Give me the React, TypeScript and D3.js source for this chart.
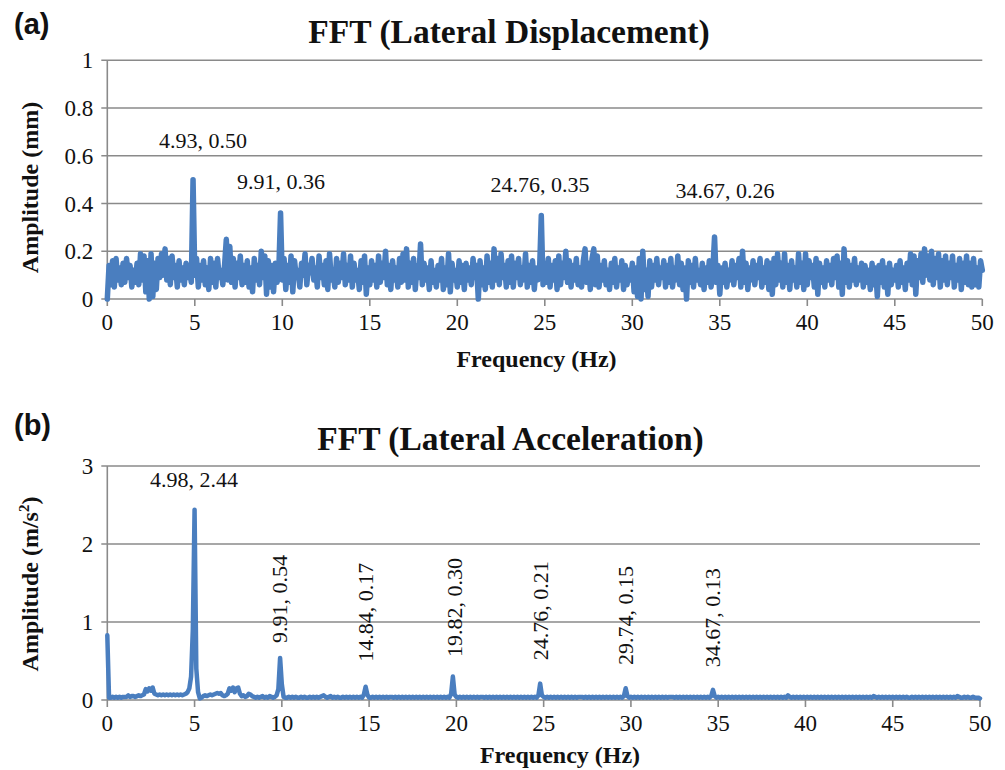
import React from "react";
import * as d3 from "d3";

// ---------- DATA ----------
const freqStep = 0.1; // Hz between samples
// (a) lateral displacement amplitude (mm), 0.0 .. 50.0 Hz
const dispAmp: number[] = [
  0.00, 0.14, 0.06, 0.16, 0.05, 0.17, 0.08, 0.13, 0.06, 0.15,
  0.07, 0.17, 0.09, 0.14, 0.05, 0.12, 0.07, 0.15, 0.06, 0.19,
  0.08, 0.18, 0.03, 0.16, 0.00, 0.19, 0.01, 0.15, 0.04, 0.17,
  0.09, 0.19, 0.10, 0.21, 0.08, 0.17, 0.06, 0.18, 0.09, 0.14,
  0.05, 0.16, 0.08, 0.13, 0.06, 0.15, 0.09, 0.12, 0.07, 0.50,
  0.10, 0.17, 0.05, 0.14, 0.08, 0.16, 0.06, 0.13, 0.04, 0.17,
  0.07, 0.15, 0.05, 0.17, 0.09, 0.12, 0.06, 0.14, 0.25, 0.08,
  0.22, 0.07, 0.17, 0.05, 0.15, 0.09, 0.18, 0.06, 0.14, 0.07,
  0.16, 0.05, 0.13, 0.03, 0.17, 0.08, 0.14, 0.06, 0.20, 0.09,
  0.18, 0.02, 0.16, 0.05, 0.14, 0.03, 0.15, 0.07, 0.12, 0.36,
  0.08, 0.17, 0.04, 0.14, 0.07, 0.18, 0.03, 0.16, 0.09, 0.12,
  0.05, 0.15, 0.10, 0.19, 0.06, 0.14, 0.11, 0.17, 0.08, 0.13,
  0.05, 0.18, 0.09, 0.14, 0.06, 0.16, 0.04, 0.19, 0.08, 0.12,
  0.05, 0.17, 0.07, 0.15, 0.09, 0.19, 0.06, 0.14, 0.08, 0.18,
  0.05, 0.15, 0.08, 0.12, 0.04, 0.16, 0.07, 0.18, 0.02, 0.13,
  0.06, 0.16, 0.08, 0.14, 0.05, 0.18, 0.07, 0.15, 0.09, 0.20,
  0.06, 0.14, 0.04, 0.16, 0.08, 0.13, 0.05, 0.17, 0.07, 0.19,
  0.08, 0.21, 0.05, 0.15, 0.07, 0.17, 0.04, 0.14, 0.09, 0.23,
  0.06, 0.15, 0.08, 0.13, 0.04, 0.16, 0.07, 0.12, 0.05, 0.14,
  0.08, 0.17, 0.04, 0.13, 0.06, 0.19, 0.03, 0.15, 0.08, 0.12,
  0.05, 0.16, 0.07, 0.14, 0.04, 0.15, 0.08, 0.13, 0.06, 0.17,
  0.09, 0.14, 0.00, 0.16, 0.06, 0.13, 0.04, 0.18, 0.07, 0.15,
  0.05, 0.21, 0.08, 0.17, 0.06, 0.19, 0.09, 0.14, 0.05, 0.16,
  0.07, 0.18, 0.05, 0.15, 0.09, 0.17, 0.06, 0.13, 0.08, 0.19,
  0.05, 0.14, 0.07, 0.16, 0.04, 0.13, 0.08, 0.12, 0.35, 0.06,
  0.15, 0.07, 0.17, 0.05, 0.14, 0.08, 0.16, 0.04, 0.18, 0.06,
  0.15, 0.09, 0.20, 0.07, 0.16, 0.05, 0.14, 0.08, 0.17, 0.06,
  0.13, 0.05, 0.16, 0.21, 0.07, 0.15, 0.04, 0.17, 0.21, 0.06,
  0.18, 0.05, 0.14, 0.08, 0.16, 0.06, 0.12, 0.04, 0.15, 0.07,
  0.17, 0.05, 0.13, 0.08, 0.16, 0.04, 0.14, 0.06, 0.12, 0.08,
  0.15, 0.03, 0.13, 0.01, 0.17, 0.00, 0.20, 0.04, 0.12, 0.01,
  0.16, 0.05, 0.14, 0.08, 0.17, 0.06, 0.13, 0.09, 0.16, 0.05,
  0.14, 0.07, 0.17, 0.05, 0.13, 0.08, 0.18, 0.06, 0.15, 0.04,
  0.13, 0.00, 0.16, 0.07, 0.14, 0.05, 0.17, 0.08, 0.12, 0.06,
  0.15, 0.04, 0.13, 0.07, 0.16, 0.05, 0.12, 0.26, 0.07, 0.14,
  0.02, 0.13, 0.07, 0.15, 0.05, 0.12, 0.08, 0.16, 0.06, 0.14,
  0.09, 0.17, 0.05, 0.20, 0.07, 0.15, 0.04, 0.13, 0.08, 0.16,
  0.06, 0.14, 0.09, 0.17, 0.05, 0.13, 0.07, 0.16, 0.04, 0.15,
  0.02, 0.17, 0.06, 0.19, 0.08, 0.15, 0.05, 0.19, 0.07, 0.14,
  0.04, 0.16, 0.08, 0.13, 0.05, 0.19, 0.07, 0.15, 0.04, 0.19,
  0.06, 0.16, 0.09, 0.14, 0.05, 0.17, 0.02, 0.15, 0.07, 0.13,
  0.05, 0.16, 0.08, 0.14, 0.06, 0.17, 0.09, 0.18, 0.05, 0.15,
  0.02, 0.21, 0.07, 0.16, 0.05, 0.14, 0.08, 0.17, 0.06, 0.13,
  0.08, 0.15, 0.05, 0.14, 0.07, 0.12, 0.04, 0.15, 0.06, 0.13,
  0.01, 0.14, 0.07, 0.16, 0.05, 0.13, 0.02, 0.15, 0.06, 0.12,
  0.08, 0.14, 0.05, 0.16, 0.07, 0.13, 0.04, 0.15, 0.08, 0.19,
  0.06, 0.18, 0.02, 0.16, 0.09, 0.19, 0.07, 0.21, 0.10, 0.18,
  0.08, 0.20, 0.06, 0.17, 0.09, 0.19, 0.05, 0.16, 0.08, 0.18,
  0.06, 0.15, 0.09, 0.18, 0.05, 0.14, 0.08, 0.17, 0.04, 0.15,
  0.07, 0.18, 0.06, 0.15, 0.05, 0.17, 0.06, 0.13, 0.05, 0.16,
  0.12,
];

// (b) lateral acceleration amplitude (m/s²), 0.0 .. 50.0 Hz
const accAmp: number[] = [
  0.83, 0.03, 0.03, 0.04, 0.03, 0.04, 0.03, 0.04, 0.03, 0.04,
  0.04, 0.04, 0.06, 0.04, 0.05, 0.05, 0.04, 0.05, 0.06, 0.05,
  0.06, 0.07, 0.14, 0.11, 0.15, 0.12, 0.16, 0.08, 0.07, 0.06,
  0.07, 0.06, 0.07, 0.06, 0.07, 0.06, 0.07, 0.06, 0.07, 0.06,
  0.07, 0.06, 0.07, 0.06, 0.07, 0.08, 0.10, 0.15, 0.30, 0.90,
  2.44, 0.40, 0.10, 0.02, 0.03, 0.05, 0.06, 0.05, 0.06, 0.07,
  0.06, 0.07, 0.08, 0.09, 0.08, 0.09, 0.06, 0.05, 0.06, 0.08,
  0.15, 0.12, 0.16, 0.10, 0.15, 0.16, 0.08, 0.05, 0.06, 0.04,
  0.05, 0.08, 0.07, 0.05, 0.04, 0.03, 0.04, 0.03, 0.04, 0.05,
  0.03, 0.04, 0.03, 0.05, 0.04, 0.03, 0.04, 0.06, 0.14, 0.54,
  0.20, 0.04, 0.03, 0.03, 0.04, 0.03, 0.04, 0.03, 0.04, 0.03,
  0.03, 0.04, 0.03, 0.04, 0.03, 0.03, 0.04, 0.03, 0.04, 0.03,
  0.04, 0.03, 0.04, 0.05, 0.06, 0.04, 0.03, 0.04, 0.05, 0.03,
  0.04, 0.03, 0.04, 0.03, 0.03, 0.04, 0.03, 0.04, 0.03, 0.04,
  0.03, 0.04, 0.03, 0.04, 0.03, 0.04, 0.03, 0.07, 0.17, 0.07,
  0.03, 0.03, 0.04, 0.03, 0.04, 0.03, 0.04, 0.03, 0.04, 0.03,
  0.04, 0.03, 0.04, 0.04, 0.03, 0.04, 0.03, 0.04, 0.03, 0.04,
  0.03, 0.04, 0.03, 0.04, 0.03, 0.04, 0.03, 0.04, 0.03, 0.04,
  0.03, 0.04, 0.03, 0.04, 0.03, 0.04, 0.03, 0.04, 0.03, 0.04,
  0.03, 0.04, 0.03, 0.04, 0.03, 0.04, 0.03, 0.08, 0.30, 0.07,
  0.04, 0.03, 0.04, 0.03, 0.04, 0.03, 0.04, 0.03, 0.04, 0.03,
  0.04, 0.03, 0.04, 0.03, 0.04, 0.04, 0.03, 0.04, 0.03, 0.04,
  0.03, 0.04, 0.03, 0.04, 0.03, 0.04, 0.03, 0.04, 0.03, 0.04,
  0.03, 0.04, 0.03, 0.04, 0.03, 0.04, 0.03, 0.04, 0.03, 0.04,
  0.03, 0.04, 0.03, 0.04, 0.03, 0.04, 0.03, 0.06, 0.21, 0.06,
  0.04, 0.03, 0.04, 0.03, 0.04, 0.03, 0.04, 0.03, 0.04, 0.03,
  0.04, 0.03, 0.04, 0.03, 0.04, 0.03, 0.04, 0.03, 0.04, 0.03,
  0.04, 0.04, 0.04, 0.03, 0.04, 0.03, 0.04, 0.03, 0.04, 0.03,
  0.04, 0.03, 0.04, 0.03, 0.04, 0.03, 0.04, 0.03, 0.04, 0.03,
  0.04, 0.03, 0.04, 0.03, 0.04, 0.03, 0.05, 0.15, 0.05, 0.03,
  0.04, 0.03, 0.04, 0.03, 0.04, 0.03, 0.04, 0.03, 0.04, 0.03,
  0.04, 0.03, 0.04, 0.03, 0.04, 0.03, 0.04, 0.03, 0.04, 0.03,
  0.04, 0.03, 0.04, 0.04, 0.04, 0.03, 0.04, 0.03, 0.04, 0.03,
  0.04, 0.03, 0.04, 0.03, 0.04, 0.03, 0.04, 0.03, 0.04, 0.03,
  0.04, 0.03, 0.04, 0.03, 0.04, 0.03, 0.05, 0.13, 0.05, 0.03,
  0.04, 0.03, 0.04, 0.03, 0.04, 0.03, 0.04, 0.03, 0.04, 0.03,
  0.04, 0.03, 0.04, 0.03, 0.04, 0.03, 0.04, 0.03, 0.04, 0.03,
  0.04, 0.03, 0.04, 0.03, 0.04, 0.03, 0.04, 0.03, 0.04, 0.03,
  0.04, 0.03, 0.04, 0.03, 0.04, 0.03, 0.04, 0.03, 0.04, 0.03,
  0.06, 0.04, 0.03, 0.04, 0.03, 0.04, 0.03, 0.04, 0.03, 0.04,
  0.03, 0.04, 0.03, 0.04, 0.03, 0.04, 0.03, 0.04, 0.03, 0.04,
  0.03, 0.04, 0.03, 0.04, 0.03, 0.04, 0.03, 0.04, 0.03, 0.04,
  0.03, 0.04, 0.03, 0.04, 0.03, 0.04, 0.03, 0.04, 0.03, 0.04,
  0.03, 0.04, 0.03, 0.04, 0.03, 0.04, 0.03, 0.04, 0.03, 0.05,
  0.04, 0.03, 0.04, 0.03, 0.04, 0.03, 0.04, 0.03, 0.04, 0.03,
  0.04, 0.03, 0.04, 0.03, 0.04, 0.03, 0.04, 0.03, 0.04, 0.03,
  0.03, 0.04, 0.03, 0.04, 0.03, 0.04, 0.03, 0.04, 0.03, 0.04,
  0.03, 0.04, 0.03, 0.04, 0.03, 0.04, 0.03, 0.04, 0.03, 0.04,
  0.03, 0.04, 0.03, 0.04, 0.03, 0.04, 0.03, 0.05, 0.04, 0.03,
  0.03, 0.04, 0.03, 0.04, 0.03, 0.03, 0.04, 0.03, 0.03, 0.03,
  0.02,
];

const xTicks = [0, 5, 10, 15, 20, 25, 30, 35, 40, 45, 50];
const dispTicks = [0, 0.2, 0.4, 0.6, 0.8, 1];
const dispTickLabels = ["0", "0.2", "0.4", "0.6", "0.8", "1"];
const accTicks = [0, 1, 2, 3];
const accTickLabels = ["0", "1", "2", "3"];

// peak labels: text, and anchor in data units
const dispPeakLabels = ["4.93, 0.50", "9.91, 0.36", "24.76, 0.35", "34.67, 0.26"];
const dispPeakLabelX = [5.47, 9.93, 24.73, 35.3];
const dispPeakLabelY = [0.633, 0.46, 0.448, 0.423];

const accMainLabel = "4.98, 2.44";
const accMainLabelX = 4.97;
const accMainLabelY = 2.73;
const accPeakLabels = ["9.91, 0.54", "14.84, 0.17", "19.82, 0.30", "24.76, 0.21", "29.74, 0.15", "34.67, 0.13"];
const accPeakLabelX = [10.3, 15.23, 20.33, 25.26, 30.13, 35.11];
const accPeakLabelY = [0.73, 0.49, 0.55, 0.51, 0.45, 0.42];

// ---------- STYLE ----------
const SERIF = "'Liberation Serif', 'Times New Roman', serif";
const SANS = "'Liberation Sans', Arial, sans-serif";
const LINE = "#4a7ebf";
const GRID = "#8a8a8a";

type PanelProps = {
  values: number[];
  yMax: number;
  yTicks: number[];
  yTickLabels: string[];
  x0: number;
  x1: number;
  yTop: number;
  yBottom: number;
  lineW: number;
};

function Panel({ values, yMax, yTicks, yTickLabels, x0, x1, yTop, yBottom, lineW, children }: PanelProps & { children?: any }) {
  const x = d3.scaleLinear().domain([0, 50]).range([x0, x1]);
  const y = d3.scaleLinear().domain([0, yMax]).range([yBottom, yTop]);
  const pts: [number, number][] = values.map((v, i) => [i * freqStep, v]);
  const line = d3
    .line<[number, number]>()
    .x((d) => x(d[0]))
    .y((d) => y(d[1]));
  return (
    <g>
      {yTicks.map((t, i) => (
        <g key={"g" + i}>
          <line x1={x0 - 6} x2={x1} y1={y(t)} y2={y(t)} stroke={GRID} strokeWidth={1.6} />
          <text x={x0 - 14} y={y(t)} dy="0.35em" textAnchor="end" fontFamily={SERIF} fontSize={23} fill="#111">
            {yTickLabels[i]}
          </text>
        </g>
      ))}
      <line x1={x0} x2={x0} y1={yTop} y2={yBottom} stroke={GRID} strokeWidth={1.6} />
      {xTicks.map((t) => (
        <g key={"x" + t}>
          <line x1={x(t)} x2={x(t)} y1={yBottom} y2={yBottom + 7} stroke={GRID} strokeWidth={1.6} />
          <text x={x(t)} y={yBottom + 31} textAnchor="middle" fontFamily={SERIF} fontSize={23} fill="#111">
            {t}
          </text>
        </g>
      ))}
      <path d={line(pts) || ""} fill="none" stroke={LINE} strokeWidth={lineW} strokeLinejoin="round" strokeLinecap="round" />
      {children}
    </g>
  );
}

export default function App() {
  const ax0 = 107.3, ax1 = 982.3, aTop = 60.3, aBot = 299;
  const xa = d3.scaleLinear().domain([0, 50]).range([ax0, ax1]);
  const ya = d3.scaleLinear().domain([0, 1]).range([aBot, aTop]);
  const bx0 = 107.3, bx1 = 980, bTop = 466, bBot = 700;
  const xb = d3.scaleLinear().domain([0, 50]).range([bx0, bx1]);
  const yb = d3.scaleLinear().domain([0, 3]).range([bBot, bTop]);

  return (
    <div style={{ position: "absolute", left: 0, top: 0 }}>
      <svg width={1005} height={770} style={{ display: "block", background: "#fff" }}>
        <rect width={1005} height={770} fill="#fff" />
        {/* ---------- (a) ---------- */}
        <text x={14} y={34} fontFamily={SANS} fontWeight="bold" fontSize={29} fill="#111">(a)</text>
        <text x={509} y={43} textAnchor="middle" fontFamily={SERIF} fontWeight="bold" fontSize={33.5} fill="#111">
          FFT (Lateral Displacement)
        </text>
        <Panel values={dispAmp} yMax={1} yTicks={dispTicks} yTickLabels={dispTickLabels} x0={ax0} x1={ax1} yTop={aTop} yBottom={aBot} lineW={5.5}>
          {dispPeakLabels.map((s, i) => (
            <text key={s} x={xa(dispPeakLabelX[i])} y={ya(dispPeakLabelY[i])} textAnchor="middle" fontFamily={SERIF} fontSize={22} fill="#111">
              {s}
            </text>
          ))}
        </Panel>
        <text transform={`translate(38,187.5) rotate(-90)`} textAnchor="middle" fontFamily={SERIF} fontWeight="bold" fontSize={24} fill="#111">
          Amplitude (mm)
        </text>
        <text x={536.5} y={367} textAnchor="middle" fontFamily={SERIF} fontWeight="bold" fontSize={24} fill="#111">
          Frequency (Hz)
        </text>

        {/* ---------- (b) ---------- */}
        <text x={14} y={435} fontFamily={SANS} fontWeight="bold" fontSize={29} fill="#111">(b)</text>
        <text x={510.5} y={450} textAnchor="middle" fontFamily={SERIF} fontWeight="bold" fontSize={33.5} fill="#111">
          FFT (Lateral Acceleration)
        </text>
        <Panel values={accAmp} yMax={3} yTicks={accTicks} yTickLabels={accTickLabels} x0={bx0} x1={bx1} yTop={bTop} yBottom={bBot} lineW={4.5}>
          <text x={xb(accMainLabelX)} y={yb(accMainLabelY)} textAnchor="middle" fontFamily={SERIF} fontSize={22} fill="#111">
            {accMainLabel}
          </text>
          {accPeakLabels.map((s, i) => (
            <text key={s} transform={`translate(${xb(accPeakLabelX[i])},${yb(accPeakLabelY[i])}) rotate(-90)`} textAnchor="start" fontFamily={SERIF} fontSize={22} fill="#111">
              {s}
            </text>
          ))}
        </Panel>
        <text transform={`translate(38,584) rotate(-90)`} textAnchor="middle" fontFamily={SERIF} fontWeight="bold" fontSize={24} fill="#111">
          Amplitude (m/s
          <tspan fontSize={15} dy={-9}>2</tspan>
          <tspan dy={9}>)</tspan>
        </text>
        <text x={560} y={763} textAnchor="middle" fontFamily={SERIF} fontWeight="bold" fontSize={24} fill="#111">
          Frequency (Hz)
        </text>
      </svg>
    </div>
  );
}
